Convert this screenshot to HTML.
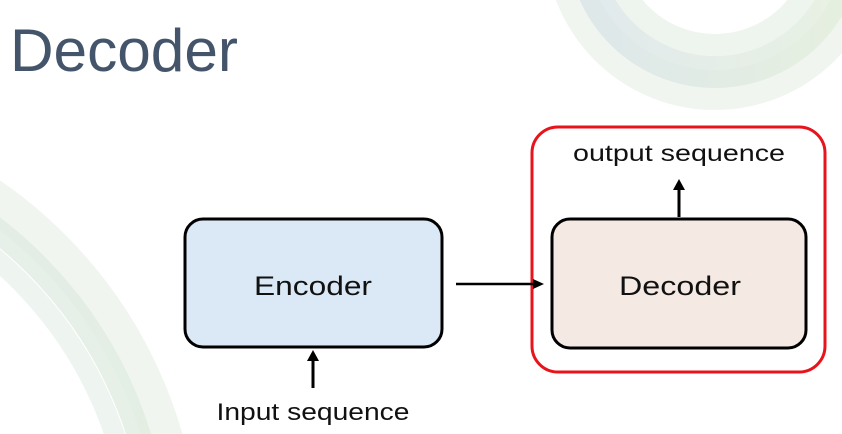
<!DOCTYPE html>
<html><head><meta charset="utf-8"><style>html,body{margin:0;padding:0;background:#fff;width:842px;height:434px;overflow:hidden;}svg{display:block}</style></head>
<body>
<svg width="842" height="434" viewBox="0 0 842 434" xmlns="http://www.w3.org/2000/svg">
<defs>
<linearGradient id="g1" x1="0" y1="0" x2="1" y2="0"><stop offset="0" stop-color="#d9e4e8"/><stop offset="1" stop-color="#e3eedb"/></linearGradient>
<linearGradient id="g2" x1="0" y1="0" x2="1" y2="1"><stop offset="0" stop-color="#dde8ea"/><stop offset="1" stop-color="#e2eedb"/></linearGradient>
</defs>
<circle cx="715" cy="-60" r="150" fill="none" stroke="#f0f5f0" stroke-width="40"/>
<circle cx="715" cy="-60" r="132" fill="none" stroke="url(#g1)" stroke-width="32" opacity="0.8"/>
<circle cx="715" cy="-60" r="105" fill="none" stroke="#eef4ee" stroke-width="22"/>
<circle cx="-260" cy="560" r="440" fill="none" stroke="#f0f5f0" stroke-width="40"/>
<circle cx="-260" cy="560" r="418" fill="none" stroke="url(#g2)" stroke-width="24" opacity="0.8"/>
<circle cx="-260" cy="560" r="395" fill="none" stroke="#eef4ef" stroke-width="20"/>

<text x="10" y="71" font-family="Liberation Sans, sans-serif" font-size="60" fill="#44546a" textLength="228" lengthAdjust="spacingAndGlyphs">Decoder</text>

<rect x="532" y="127" width="293" height="245" rx="26" fill="none" stroke="#e8141b" stroke-width="3"/>
<rect x="185" y="219" width="257" height="128" rx="18" fill="#dbe8f5" stroke="#000" stroke-width="3"/>
<rect x="552" y="219" width="254" height="129" rx="18" fill="#f5e9e3" stroke="#000" stroke-width="3"/>

<text x="313" y="295" text-anchor="middle" font-family="Liberation Sans, sans-serif" font-size="27" fill="#111" textLength="118" lengthAdjust="spacingAndGlyphs">Encoder</text>
<text x="680" y="295" text-anchor="middle" font-family="Liberation Sans, sans-serif" font-size="27" fill="#111" textLength="122" lengthAdjust="spacingAndGlyphs">Decoder</text>

<line x1="456" y1="284" x2="535" y2="284" stroke="#000" stroke-width="2.5"/>
<polygon points="544,284 533,279 533,289" fill="#000"/>
<line x1="679" y1="217" x2="679" y2="187" stroke="#000" stroke-width="3"/>
<polygon points="679,179 673,190 685,190" fill="#000"/>
<line x1="313" y1="388" x2="313" y2="358" stroke="#000" stroke-width="3"/>
<polygon points="313,350 307,361 319,361" fill="#000"/>

<text x="313" y="420" text-anchor="middle" font-family="Liberation Sans, sans-serif" font-size="24" fill="#111" textLength="193" lengthAdjust="spacingAndGlyphs">Input sequence</text>
<text x="679" y="161" text-anchor="middle" font-family="Liberation Sans, sans-serif" font-size="23" fill="#111" textLength="212" lengthAdjust="spacingAndGlyphs">output sequence</text>
</svg>
</body></html>
